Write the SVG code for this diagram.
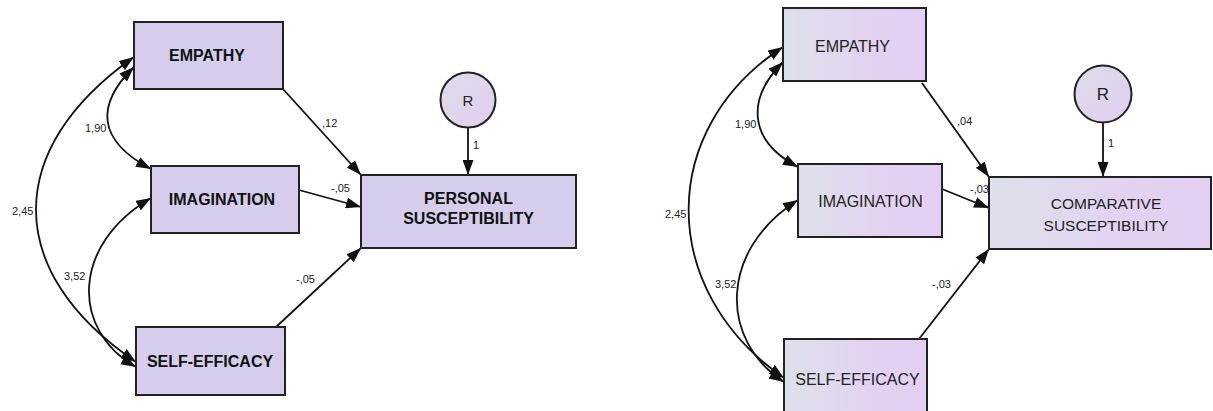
<svg xmlns="http://www.w3.org/2000/svg" width="1213" height="411" viewBox="0 0 1213 411">
<style>
.boxL{fill:#d5cdeb;stroke:#222;stroke-width:2}
.boxR{fill:url(#gR);stroke:#222;stroke-width:2}
.circ{stroke:#222;stroke-width:2}
.lblB{font-family:"Liberation Sans",Arial,sans-serif;font-weight:bold;font-size:16px;fill:#111;text-anchor:middle}
.lblR{font-family:"Liberation Sans",Arial,sans-serif;font-size:16px;fill:#222;text-anchor:middle}
.num{font-family:"Liberation Sans",Arial,sans-serif;font-size:11px;fill:#222}
.con{fill:none;stroke:#111;stroke-width:1.8}
.one{marker-end:url(#ah)}
.two{marker-start:url(#ah);marker-end:url(#ah)}
</style>
<defs>
<marker id="ah" markerUnits="userSpaceOnUse" markerWidth="16" markerHeight="11" refX="15" refY="5.5" orient="auto-start-reverse">
<path d="M0,0 L15,5.5 L0,11 z" fill="#111"/>
</marker>
<linearGradient id="gR" x1="0" y1="0" x2="1" y2="0">
<stop offset="0" stop-color="#dde1ea"/>
<stop offset="0.55" stop-color="#e2d3f0"/>
<stop offset="1" stop-color="#e3cff3"/>
</linearGradient>
<linearGradient id="gC" x1="0" y1="0" x2="1" y2="1">
<stop offset="0" stop-color="#dcdde9"/>
<stop offset="1" stop-color="#e2cdef"/>
</linearGradient>
</defs>
<rect width="1213" height="411" fill="#ffffff"/>

<g id="connectors">
<!-- left -->
<path class="con one" d="M283,89 L361,175"/>
<path class="con one" d="M299,190 L361,207"/>
<path class="con one" d="M276,327 L361,248"/>
<path class="con one" d="M468,128 L468,175"/>
<path class="con two" d="M134,57 C3,149 3,272 136,362"/>
<path class="con two" d="M134,67 C96,104 96,140 151,169"/>
<path class="con two" d="M151,198 C71,245 71,330 136,367"/>
<!-- right -->
<path class="con one" d="M922,83 L989,177"/>
<path class="con one" d="M942,189 L989,208"/>
<path class="con one" d="M919,339 L989,249"/>
<path class="con one" d="M1103,123 L1103,177"/>
<path class="con two" d="M783,47 C657,129 657,290 784,378"/>
<path class="con two" d="M783,62 C747,98 747,140 798,167"/>
<path class="con two" d="M798,200 C719,250 719,340 784,382"/>
</g>

<g id="labels">
<text class="num" x="322" y="127">,12</text>
<text class="num" x="331" y="192">-,05</text>
<text class="num" x="296" y="283">-,05</text>
<text class="num" x="85" y="132">1,90</text>
<text class="num" x="12" y="215">2,45</text>
<text class="num" x="64" y="280">3,52</text>
<text class="num" x="473" y="149">1</text>
<text class="num" x="957" y="125">,04</text>
<text class="num" x="970" y="193">-,03</text>
<text class="num" x="932" y="288">-,03</text>
<text class="num" x="735" y="128">1,90</text>
<text class="num" x="665" y="218">2,45</text>
<text class="num" x="715" y="288">3,52</text>
<text class="num" x="1108" y="147">1</text>
</g>

<g id="L-empathy"><rect class="boxL" x="134" y="22" width="149" height="67"/><text class="lblB" x="207" y="61">EMPATHY</text></g>
<g id="L-imagination"><rect class="boxL" x="151" y="166" width="148" height="67"/><text class="lblB" x="222" y="205">IMAGINATION</text></g>
<g id="L-selfefficacy"><rect class="boxL" x="136" y="327" width="149" height="68"/><text class="lblB" x="210" y="367">SELF-EFFICACY</text></g>
<g id="L-personal"><rect class="boxL" x="361" y="175" width="215" height="73"/><text class="lblB" x="468.5" y="204">PERSONAL</text><text class="lblB" x="468.5" y="224">SUSCEPTIBILITY</text></g>
<g id="L-R"><circle class="circ" cx="468" cy="100" r="27.5" fill="url(#gC)"/><text class="lblR" x="468" y="105.5" style="font-size:15px">R</text></g>

<g id="R-empathy"><rect class="boxR" x="783" y="8" width="143" height="73"/><text class="lblR" x="852.5" y="52">EMPATHY</text></g>
<g id="R-imagination"><rect class="boxR" x="798" y="164" width="144" height="73"/><text class="lblR" x="870.5" y="207">IMAGINATION</text></g>
<g id="R-selfefficacy"><rect class="boxR" x="784" y="339" width="143" height="76"/><text class="lblR" x="857.5" y="385">SELF-EFFICACY</text></g>
<g id="R-comparative"><rect class="boxR" x="989" y="177" width="222" height="72"/><text class="lblR" x="1106" y="209" style="font-size:15.5px">COMPARATIVE</text><text class="lblR" x="1106" y="231" style="font-size:15.5px">SUSCEPTIBILITY</text></g>
<g id="R-R"><circle class="circ" cx="1103" cy="94" r="28.5" fill="url(#gC)"/><text class="lblR" x="1103" y="100" style="font-size:17px">R</text></g>
</svg>
